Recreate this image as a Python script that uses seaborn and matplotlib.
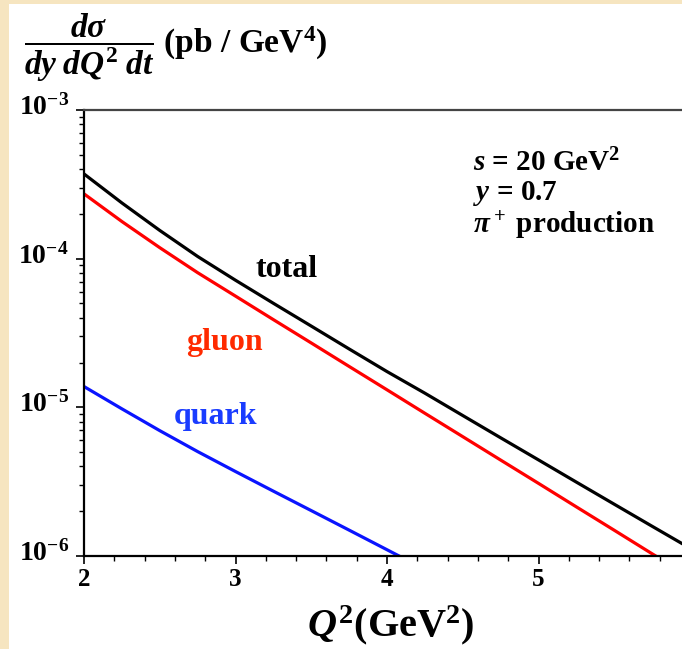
import numpy as np
import pandas as pd
import matplotlib.pyplot as plt
import matplotlib.transforms as mtransforms
import seaborn as sns
from matplotlib.patches import Rectangle

# Values (Q^2 in GeV^2, cross section in pb/GeV^4)
q2_total = [2.0, 2.25, 2.5, 2.75, 3.0, 3.25, 3.5, 3.75, 4.0, 4.25, 4.5,
            4.75, 5.0, 5.25, 5.5, 5.75, 5.95]
xs_total = [3.715e-4, 2.371e-4, 1.549e-4, 1.035e-4, 7.16e-5, 5.01e-5,
            3.52e-5, 2.47e-5, 1.74e-5, 1.245e-5, 8.81e-6, 6.24e-6,
            4.43e-6, 3.14e-6, 2.23e-6, 1.585e-6, 1.208e-6]

q2_gluon = [2.0, 2.25, 2.5, 2.75, 3.0, 3.25, 3.5, 3.75, 4.0, 4.25, 4.5,
            4.75, 5.0, 5.25, 5.5, 5.75, 5.95]
xs_gluon = [2.729e-4, 1.778e-4, 1.186e-4, 8.05e-5, 5.60e-5, 3.89e-5,
            2.71e-5, 1.884e-5, 1.312e-5, 9.12e-6, 6.35e-6, 4.42e-6,
            3.08e-6, 2.14e-6, 1.49e-6, 1.035e-6, 7.76e-7]

q2_quark = [2.0, 2.25, 2.5, 2.75, 3.0, 3.25, 3.5, 3.75, 4.0, 4.25]
xs_quark = [1.380e-5, 9.77e-6, 6.97e-6, 5.04e-6, 3.70e-6, 2.73e-6,
            2.02e-6, 1.493e-6, 1.102e-6, 8.13e-7]

x_ticks = [2, 3, 4, 5]
x_tick_labels = ['2', '3', '4', '5']
y_ticks = [1e-6, 1e-5, 1e-4, 1e-3]
y_tick_labels = [r'$\mathbf{10^{-6}}$', r'$\mathbf{10^{-5}}$',
                 r'$\mathbf{10^{-4}}$', r'$\mathbf{10^{-3}}$']

df = pd.concat([
    pd.DataFrame({'Q2': q2_total, 'xs': xs_total, 'channel': 'total'}),
    pd.DataFrame({'Q2': q2_gluon, 'xs': xs_gluon, 'channel': 'gluon'}),
    pd.DataFrame({'Q2': q2_quark, 'xs': xs_quark, 'channel': 'quark'}),
])
line_colors = {'total': '#000000', 'gluon': '#ff0000', 'quark': '#0a14ff'}

sns.set_theme(style='white')
plt.rcParams['font.family'] = ['Liberation Serif', 'DejaVu Serif']
plt.rcParams['font.weight'] = 'bold'
plt.rcParams['text.color'] = 'black'
plt.rcParams['xtick.color'] = 'black'
plt.rcParams['ytick.color'] = 'black'
plt.rcParams['mathtext.fontset'] = 'custom'
plt.rcParams['mathtext.rm'] = 'Liberation Serif:bold'
plt.rcParams['mathtext.it'] = 'Liberation Serif:italic:bold'
plt.rcParams['mathtext.bf'] = 'Liberation Serif:bold'

fig = plt.figure(figsize=(6.82, 6.49), dpi=100, facecolor='#f6e5c0')
# white panel over the cream background
fig.patches.append(Rectangle((9 / 682, 0), 1 - 9 / 682, 1 - 4 / 649,
                             transform=fig.transFigure, facecolor='white',
                             edgecolor='none', zorder=-5))

ax = fig.add_axes([84 / 682, 1 - 556 / 649, 1 - 84 / 682, (556 - 110) / 649])
ax.set_zorder(2)
ax.set_facecolor('white')

sns.lineplot(data=df, x='Q2', y='xs', hue='channel', palette=line_colors,
             linewidth=2.3, legend=False, ax=ax, sort=False, estimator=None)

ax.set_yscale('log')
ax.set_xlim(2, 2 + 598 / 151.5)
ax.set_ylim(1e-6, 1e-3)

ax.set_xticks(x_ticks)
ax.set_xticklabels(x_tick_labels, fontsize=18, fontweight='bold')
ax.set_xticks(np.arange(2.2, 6.0, 0.2), minor=True)
ax.set_yticks(y_ticks)
ax.set_yticklabels(y_tick_labels, fontsize=20)
ax.tick_params(axis='both', which='major', direction='out', length=6,
               width=1.2, color='black')
ax.tick_params(axis='both', which='minor', direction='out', length=3.5,
               width=1, color='black')
ax.tick_params(axis='x', which='both', bottom=True, pad=3)
ax.tick_params(axis='y', which='both', left=True, pad=5)

# lift the y labels so the "10" sits on the tick
shift = mtransforms.ScaledTranslation(0, 4 / 72, fig.dpi_scale_trans)
for lab in ax.get_yticklabels():
    lab.set_transform(lab.get_transform() + shift)

for side in ['left', 'bottom']:
    ax.spines[side].set_color('black')
    ax.spines[side].set_linewidth(1.6)
ax.spines['top'].set_color('#444444')
ax.spines['top'].set_linewidth(1.6)
ax.spines['right'].set_visible(False)

ax.set_xlabel('')
ax.set_ylabel('')

# curve labels
ax.text(3.34, 8.4e-5, 'total', color='black', fontsize=23,
        fontweight='bold', ha='center', va='center')
ax.text(2.93, 2.75e-5, 'gluon', color='#ff2a00', fontsize=23,
        fontweight='bold', ha='center', va='center')
ax.text(2.87, 8.7e-6, 'quark', color='#1a3cff', fontsize=23,
        fontweight='bold', ha='center', va='center')

# kinematics box
ax.text(0.65, 0.88, r'$s$ = 20 GeV$^2$', transform=ax.transAxes,
        fontsize=21, fontweight='bold', ha='left', va='center')
ax.text(0.65, 0.813, r'$y$ = 0.7', transform=ax.transAxes,
        fontsize=21, fontweight='bold', ha='left', va='center')
ax.text(0.65, 0.741, r'$\pi^+$ production', transform=ax.transAxes,
        fontsize=21, fontweight='bold', ha='left', va='center')

# axis titles
fig.text(391 / 682, 1 - 625 / 649, r'$Q^2$(GeV$^2$)', fontsize=29,
         fontweight='bold', ha='center', va='center')
fig.text(24 / 682, 1 - 48 / 649,
         r'$\dfrac{d\sigma}{dy\;dQ^2\;dt}$ (pb / GeV$^4$)',
         fontsize=24, fontweight='bold', ha='left', va='center')

fig.savefig('out.png', dpi=100, facecolor=fig.get_facecolor())
